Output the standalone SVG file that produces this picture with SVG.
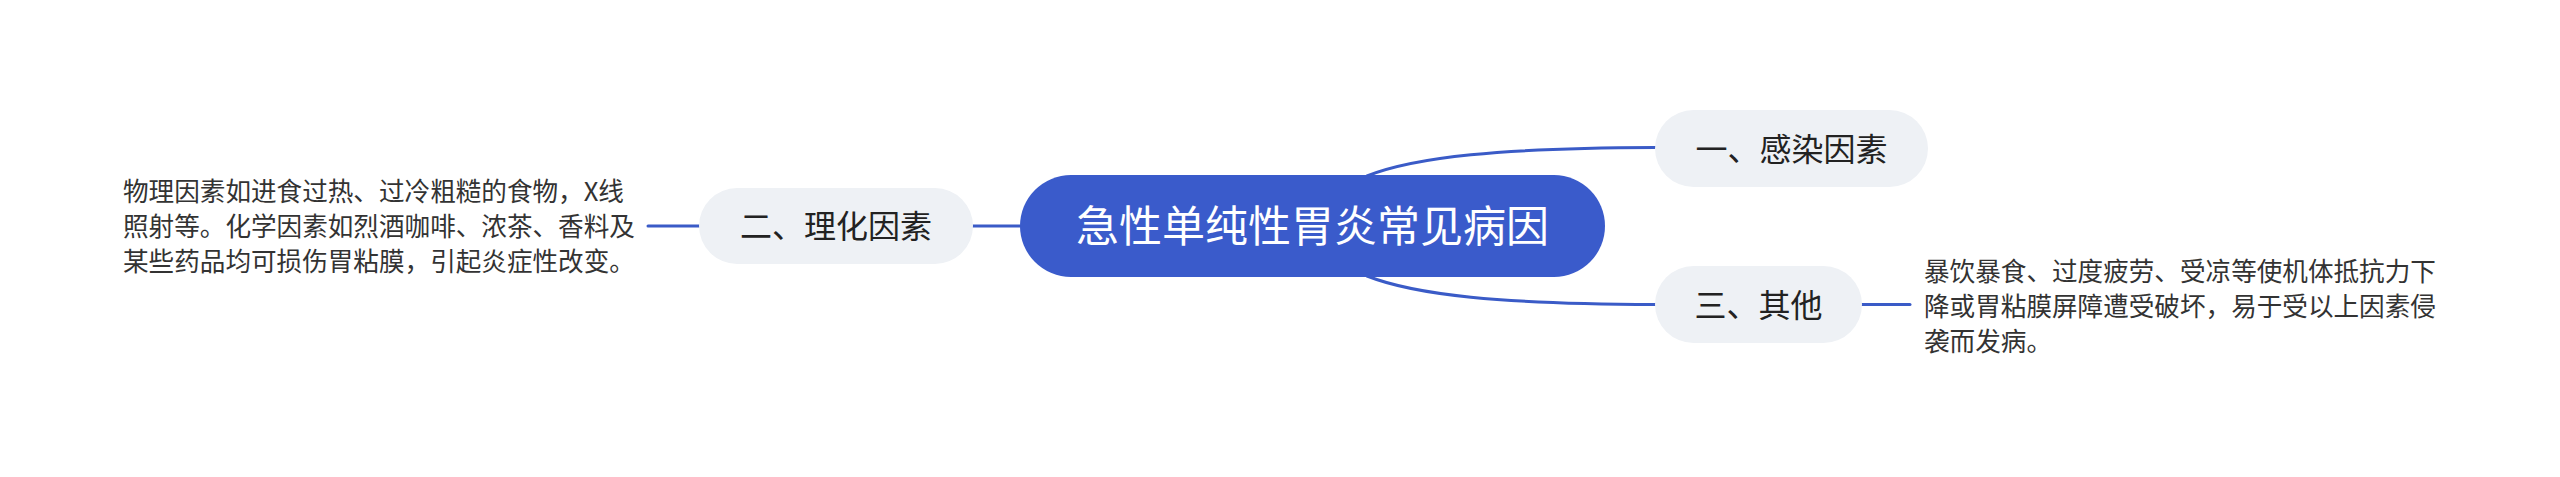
<svg xmlns="http://www.w3.org/2000/svg" width="2560" height="477" viewBox="0 0 2560 477">
<style>
.conn{fill:none;stroke:#3A5BC7;stroke-width:3;stroke-linecap:round}
.sub{fill:#EEF1F5}
.root{fill:#3A5BCB}
text{font-family:"Noto Sans CJK SC","Noto Sans",sans-serif}
.rt{fill:#FFFFFF;font-size:43px;text-anchor:middle}
.st{fill:#222222;font-size:32px;text-anchor:middle}
.nt{fill:#333333;font-size:25.6px}
</style>
<rect width="2560" height="477" fill="#FFFFFF"/>
<g id="connectors">
<path class="conn" d="M1367,176 C1415,157 1500,148 1655,147.5"/>
<path class="conn" d="M1367,276 C1415,295 1500,304 1655,304.5"/>
<path class="conn" d="M973,226 L1020,226"/>
<path class="conn" d="M648,226 L699,226"/>
<path class="conn" d="M1862,304.5 L1910,304.5"/>
</g>
<g id="root">
<rect class="root" x="1020" y="175" width="585" height="102" rx="51"/>
<text class="rt" x="1312.5" y="242">急性单纯性胃炎常见病因</text>
</g>
<g id="node-1">
<rect class="sub" x="1655" y="110" width="273" height="77" rx="38.5"/>
<text class="st" x="1791.5" y="160.5">一、感染因素</text>
</g>
<g id="node-2">
<rect class="sub" x="699" y="188" width="274" height="76" rx="38"/>
<text class="st" x="836" y="238">二、理化因素</text>
</g>
<g id="node-2-note">
<text class="nt" x="123" y="200.5">物理因素如进食过热、过冷粗糙的食物，X线</text>
<text class="nt" x="123" y="235.5">照射等。化学因素如烈酒咖啡、浓茶、香料及</text>
<text class="nt" x="123" y="270.5">某些药品均可损伤胃粘膜，引起炎症性改变。</text>
</g>
<g id="node-3">
<rect class="sub" x="1655" y="266" width="207" height="77" rx="38.5"/>
<text class="st" x="1758.5" y="316.5">三、其他</text>
</g>
<g id="node-3-note">
<text class="nt" x="1924" y="281">暴饮暴食、过度疲劳、受凉等使机体抵抗力下</text>
<text class="nt" x="1924" y="316">降或胃粘膜屏障遭受破坏，易于受以上因素侵</text>
<text class="nt" x="1924" y="351">袭而发病。</text>
</g>
</svg>
